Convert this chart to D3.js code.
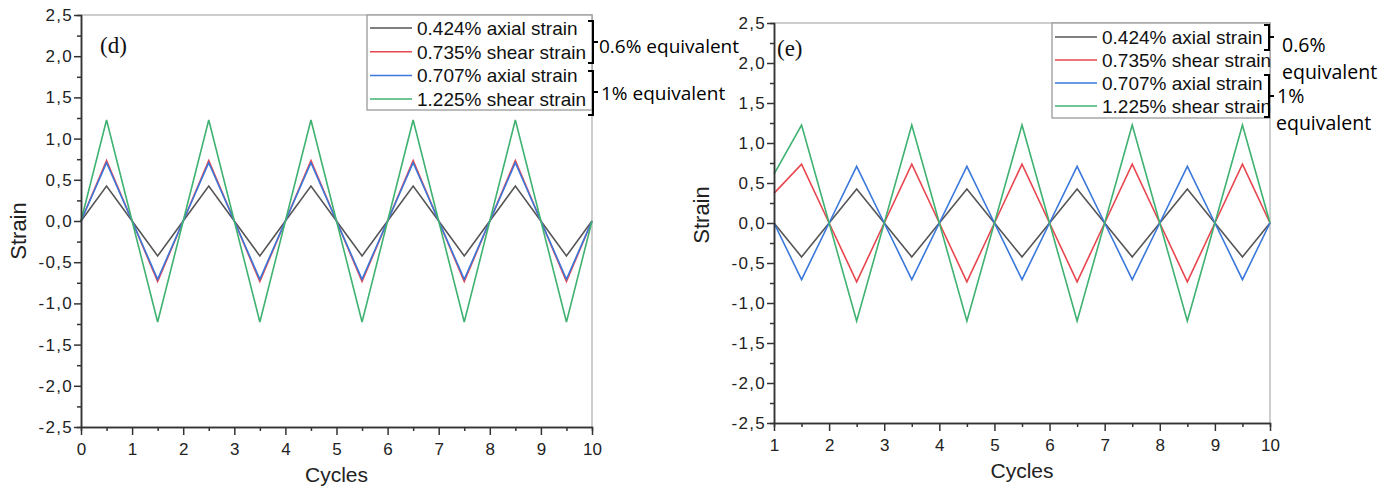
<!DOCTYPE html>
<html>
<head>
<meta charset="utf-8">
<script src="https://cdn.jsdelivr.net/npm/d3@7"></script>
<style>
	body { margin: 0; background: #fff; }
	svg { display: block; }
</style>
</head>
<body>
<script>
'use strict'

// panel (d): all series in phase, cycles 0..10
const cyclesD = [0, 0.5, 1, 1.5, 2, 2.5, 3, 3.5, 4, 4.5, 5, 5.5, 6, 6.5, 7, 7.5, 8, 8.5, 9, 9.5, 10];
const axial424D = [0, 0.424, 0, -0.424, 0, 0.424, 0, -0.424, 0, 0.424, 0, -0.424, 0, 0.424, 0, -0.424, 0, 0.424, 0, -0.424, 0];
const shear735D = [0, 0.735, 0, -0.735, 0, 0.735, 0, -0.735, 0, 0.735, 0, -0.735, 0, 0.735, 0, -0.735, 0, 0.735, 0, -0.735, 0];
const axial707D = [0, 0.707, 0, -0.707, 0, 0.707, 0, -0.707, 0, 0.707, 0, -0.707, 0, 0.707, 0, -0.707, 0, 0.707, 0, -0.707, 0];
const shear1225D = [0, 1.225, 0, -1.225, 0, 1.225, 0, -1.225, 0, 1.225, 0, -1.225, 0, 1.225, 0, -1.225, 0, 1.225, 0, -1.225, 0];

// panel (e): axial and shear out of phase, cycles 1..10
const cyclesE = [1, 1.5, 2, 2.5, 3, 3.5, 4, 4.5, 5, 5.5, 6, 6.5, 7, 7.5, 8, 8.5, 9, 9.5, 10];
const axial424E = [0, -0.424, 0, 0.424, 0, -0.424, 0, 0.424, 0, -0.424, 0, 0.424, 0, -0.424, 0, 0.424, 0, -0.424, 0];
const shear735E = [0.37, 0.735, 0, -0.735, 0, 0.735, 0, -0.735, 0, 0.735, 0, -0.735, 0, 0.735, 0, -0.735, 0, 0.735, 0];
const axial707E = [0, -0.707, 0, 0.707, 0, -0.707, 0, 0.707, 0, -0.707, 0, 0.707, 0, -0.707, 0, 0.707, 0, -0.707, 0];
const shear1225E = [0.61, 1.225, 0, -1.225, 0, 1.225, 0, -1.225, 0, 1.225, 0, -1.225, 0, 1.225, 0, -1.225, 0, 1.225, 0];

const seriesNames = ['0.424% axial strain', '0.735% shear strain', '0.707% axial strain', '1.225% shear strain'];
const seriesColors = ['#555555', '#e8464f', '#3a78dc', '#3fb271'];
const yTicks = [-2.5, -2, -1.5, -1, -0.5, 0, 0.5, 1, 1.5, 2, 2.5];
const yMinorTicks = [-2.25, -1.75, -1.25, -0.75, -0.25, 0.25, 0.75, 1.25, 1.75, 2.25];
const xTicksD = [0, 1, 2, 3, 4, 5, 6, 7, 8, 9, 10];
const xMinorD = [0.5, 1.5, 2.5, 3.5, 4.5, 5.5, 6.5, 7.5, 8.5, 9.5];
const xTicksE = [1, 2, 3, 4, 5, 6, 7, 8, 9, 10];
const xMinorE = [1.5, 2.5, 3.5, 4.5, 5.5, 6.5, 7.5, 8.5, 9.5];

const W = 1391, H = 488;
const sans = '"Liberation Sans", Arial, sans-serif';
const fmt = v => d3.format('.1f')(v).replace('.', ',').replace('\u2212', '-');

const svg = d3.select('body').append('svg')
	.attr('width', W)
	.attr('height', H);

function drawPanel(o) {
	const x = d3.scaleLinear().domain(o.xDomain).range([o.left, o.right]);
	const y = d3.scaleLinear().domain([-2.5, 2.5]).range([o.bottom, o.top]);
	const g = svg.append('g');

	// frame: top and right in grey
	g.append('path')
		.attr('d', `M${o.left},${o.top}H${o.right}V${o.bottom}`)
		.attr('fill', 'none')
		.attr('stroke', '#bdbdbd')
		.attr('stroke-width', 1.5);

	// lines
	const line = d3.line().x(d => x(d[0])).y(d => y(d[1]));
	o.series.forEach((vals, i) => {
		g.append('path')
			.datum(o.cycles.map((c, k) => [c, vals[k]]))
			.attr('d', line)
			.attr('fill', 'none')
			.attr('stroke', seriesColors[i])
			.attr('stroke-width', 1.6)
			.attr('stroke-linejoin', 'miter');
	});

	// axes
	const styleAxis = sel => {
		sel.selectAll('path, line').attr('stroke', '#333').attr('stroke-width', 1.5);
		sel.selectAll('text').attr('font-family', sans).attr('font-size', 17).attr('fill', '#222');
	};
	g.append('g').attr('transform', `translate(${o.left},0)`)
		.call(d3.axisLeft(y).tickValues(yMinorTicks).tickSize(4).tickFormat(''))
		.call(styleAxis);
	g.append('g').attr('transform', `translate(${o.left},0)`)
		.call(d3.axisLeft(y).tickValues(yTicks).tickSize(7).tickSizeOuter(0).tickPadding(1).tickFormat(fmt))
		.call(styleAxis)
		.call(sel => sel.selectAll('text').attr('letter-spacing', 1.3));
	g.append('g').attr('transform', `translate(0,${o.bottom})`)
		.call(d3.axisBottom(x).tickValues(o.xMinor).tickSize(4).tickFormat(''))
		.call(styleAxis);
	g.append('g').attr('transform', `translate(0,${o.bottom})`)
		.call(d3.axisBottom(x).tickValues(o.xTicks).tickSize(8).tickSizeOuter(0).tickPadding(8).tickFormat(d3.format('d')))
		.call(styleAxis);

	// axis titles
	g.append('text')
		.attr('x', (o.left + o.right) / 2)
		.attr('y', o.bottom + 55)
		.attr('text-anchor', 'middle')
		.attr('font-family', sans)
		.attr('font-size', 21)
		.attr('fill', '#222')
		.text('Cycles');
	g.append('text')
		.attr('transform', `translate(${o.yTitleX},${o.yTitleY}) rotate(-90)`)
		.attr('text-anchor', 'middle')
		.attr('font-family', sans)
		.attr('font-size', 22)
		.attr('fill', '#222')
		.text('Strain');

	// panel letter
	g.append('text')
		.attr('x', o.labelX)
		.attr('y', o.labelY)
		.attr('font-family', '"Liberation Serif", "Times New Roman", serif')
		.attr('font-size', 23)
		.attr('fill', '#111')
		.text(o.label);

	// legend
	const lg = g.append('g');
	lg.append('rect')
		.attr('x', o.legX)
		.attr('y', o.top)
		.attr('width', o.right - o.legX)
		.attr('height', o.legH)
		.attr('fill', '#fff')
		.attr('stroke', '#9a9a9a')
		.attr('stroke-width', 1.3);
	seriesNames.forEach((name, i) => {
		const ry = o.legRow0 + i * o.legStep;
		lg.append('line')
			.attr('x1', o.legX + 3).attr('x2', o.legX + 45)
			.attr('y1', ry).attr('y2', ry)
			.attr('stroke', seriesColors[i])
			.attr('stroke-width', 1.5);
		lg.append('text')
			.attr('x', o.legX + 50)
			.attr('y', ry + 7)
			.attr('font-family', sans)
			.attr('font-size', 19)
			.attr('fill', '#111')
			.text(name);
	});

	// brackets
	o.brackets.forEach(b => {
		lg.append('path')
			.attr('d', `M${b.x - 5},${b.y0}H${b.x}V${b.y1}H${b.x - 5}M${b.x},${b.ym}H${b.x + 5}`)
			.attr('fill', 'none')
			.attr('stroke', '#000')
			.attr('stroke-width', 2);
	});
	o.notes.forEach(n => {
		lg.append('text')
			.attr('x', n.x)
			.attr('y', n.y)
			.attr('font-family', '"Open Sans", "Noto Sans", sans-serif')
			.attr('font-size', o.noteSize)
			.attr('fill', '#000')
			.text(n.t);
	});
}

drawPanel({
	xDomain: [0, 10], left: 81, right: 592, top: 15, bottom: 427,
	cycles: cyclesD, series: [axial424D, shear735D, axial707D, shear1225D],
	xTicks: xTicksD, xMinor: xMinorD,
	yTitleX: 26, yTitleY: 231,
	label: '(d)', labelX: 100, labelY: 53,
	legX: 367, legH: 95, legRow0: 28, legStep: 23.7,
	brackets: [{ x: 593, y0: 21, y1: 63, ym: 42 }, { x: 593, y0: 71, y1: 115, ym: 92 }],
	noteSize: 19,
	notes: [{ x: 599, y: 53, t: '0.6% equivalent' }, { x: 601, y: 100, t: '1% equivalent' }]
});

drawPanel({
	xDomain: [1, 10], left: 774, right: 1270, top: 23, bottom: 423,
	cycles: cyclesE, series: [axial424E, shear735E, axial707E, shear1225E],
	xTicks: xTicksE, xMinor: xMinorE,
	yTitleX: 709, yTitleY: 215,
	label: '(e)', labelX: 777, labelY: 56,
	legX: 1052, legH: 95, legRow0: 37, legStep: 23,
	brackets: [{ x: 1269, y0: 25, y1: 50, ym: 37 }, { x: 1269, y0: 75, y1: 117, ym: 96 }],
	noteSize: 19.5,
	notes: [
		{ x: 1282, y: 52, t: '0.6%' }, { x: 1282, y: 79, t: 'equivalent' },
		{ x: 1277, y: 103, t: '1%' }, { x: 1276, y: 130, t: 'equivalent' }
	]
});
</script>
</body>
</html>
